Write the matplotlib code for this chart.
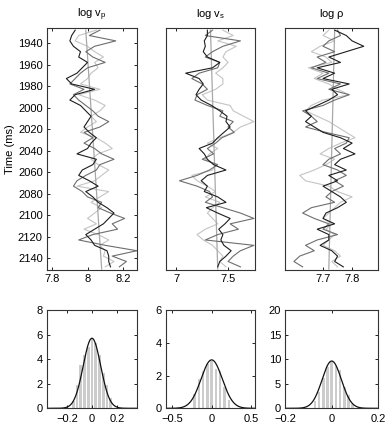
import numpy as np
import matplotlib
matplotlib.use("Agg")
import matplotlib.pyplot as plt

plt.rcParams['font.family'] = ['Liberation Sans', 'DejaVu Sans']
plt.rcParams['font.size'] = 8

# sample times (ms)
t = np.arange(1928, 2151, 5)

# log vp realisations
vp_black = [7.93, 7.91, 7.90, 7.92, 7.96, 7.95, 8.00, 7.97, 7.94, 7.88, 7.91, 8.04, 7.93, 7.90, 7.96,
            7.99, 8.02, 8.00, 7.98, 8.01, 8.05, 8.02, 8.00, 7.94, 8.05, 8.03, 7.97, 7.95, 8.01, 8.06,
            7.99, 8.03, 8.06, 8.11, 8.15, 8.12, 8.09, 8.04, 7.99, 8.02, 8.04, 8.11, 8.12, 8.12, 8.13]
vp_dark = [8.07, 8.01, 8.16, 8.04, 7.99, 8.03, 8.10, 8.00, 7.96, 7.93, 7.90, 7.98, 7.92, 7.95, 7.99,
           8.03, 8.06, 8.12, 8.07, 7.98, 8.03, 7.98, 8.04, 8.08, 8.15, 8.07, 8.05, 7.99, 7.94, 7.92,
           7.97, 8.00, 8.08, 8.06, 8.13, 8.21, 8.14, 8.17, 8.03, 7.95, 8.10, 8.28, 8.14, 8.22, 8.18]
vp_light = [8.05, 7.95, 7.93, 8.00, 8.04, 8.09, 8.04, 8.06, 8.02, 8.00, 7.96, 8.07, 7.95, 8.04, 8.10,
            8.07, 8.02, 8.05, 8.00, 7.96, 8.05, 8.10, 8.14, 8.06, 8.02, 8.06, 8.12, 8.08, 8.04, 7.94,
            8.12, 8.07, 8.02, 8.08, 8.04, 8.00, 8.05, 7.98, 8.06, 8.12, 8.07, 8.10, 8.09, 8.15, 8.10]
vp_trend = [7.99, 8.08]

# log vs realisations
vs_black = [7.30, 7.30, 7.27, 7.28, 7.26, 7.30, 7.42, 7.35, 7.09, 7.22, 7.26, 7.22, 7.19, 7.24, 7.34,
            7.42, 7.49, 7.48, 7.52, 7.46, 7.40, 7.35, 7.22, 7.27, 7.30, 7.36, 7.48, 7.30, 7.24, 7.30,
            7.27, 7.40, 7.48, 7.29, 7.40, 7.52, 7.47, 7.41, 7.45, 7.43, 7.46, 7.53, 7.48, 7.42, 7.40]
vs_dark = [7.35, 7.28, 7.62, 7.45, 7.35, 7.28, 7.42, 7.40, 7.22, 7.15, 7.25, 7.30, 7.20, 7.18, 7.30,
           7.45, 7.42, 7.55, 7.50, 7.56, 7.44, 7.38, 7.30, 7.36, 7.25, 7.40, 7.32, 7.20, 7.03, 7.20,
           7.32, 7.35, 7.28, 7.45, 7.62, 7.75, 7.52, 7.60, 7.40, 7.28, 7.75, 7.62, 7.55, 7.50, 7.62]
vs_light = [7.45, 7.55, 7.40, 7.58, 7.48, 7.45, 7.50, 7.45, 7.38, 7.45, 7.45, 7.38, 7.25, 7.30, 7.52,
            7.55, 7.65, 7.75, 7.62, 7.55, 7.42, 7.30, 7.40, 7.32, 7.28, 7.38, 7.35, 7.15, 7.20, 7.30,
            7.38, 7.28, 7.42, 7.35, 7.30, 7.35, 7.40, 7.28, 7.20, 7.26, 7.35, 7.40, 7.45, 7.42, 7.48]
vs_trend = [7.33, 7.40]

# log rho realisations
rho_black = [7.74, 7.78, 7.80, 7.84, 7.78, 7.72, 7.76, 7.68, 7.74, 7.70, 7.79, 7.73, 7.75, 7.72, 7.68,
             7.64, 7.66, 7.64, 7.67, 7.70, 7.76, 7.80, 7.77, 7.81, 7.76, 7.74, 7.78, 7.72, 7.75, 7.70,
             7.73, 7.76, 7.78, 7.75, 7.71, 7.70, 7.74, 7.68, 7.72, 7.72, 7.69, 7.73, 7.75, 7.74, 7.77]
rho_dark = [7.75, 7.76, 7.72, 7.70, 7.74, 7.68, 7.71, 7.66, 7.72, 7.68, 7.76, 7.72, 7.79, 7.74, 7.70,
            7.63, 7.66, 7.68, 7.64, 7.71, 7.79, 7.78, 7.74, 7.76, 7.72, 7.70, 7.75, 7.78, 7.74, 7.77,
            7.73, 7.71, 7.74, 7.66, 7.63, 7.67, 7.72, 7.70, 7.75, 7.68, 7.64, 7.67, 7.62, 7.60, 7.63]
rho_light = [7.72, 7.70, 7.74, 7.69, 7.66, 7.71, 7.73, 7.65, 7.70, 7.67, 7.72, 7.75, 7.79, 7.70, 7.66,
             7.64, 7.68, 7.72, 7.75, 7.78, 7.81, 7.76, 7.72, 7.69, 7.74, 7.71, 7.67, 7.62, 7.64, 7.72,
             7.75, 7.80, 7.76, 7.74, 7.72, 7.70, 7.73, 7.71, 7.74, 7.72, 7.70, 7.74, 7.76, 7.73, 7.75]
rho_trend = [7.74, 7.72]

# histograms of residuals
vp_bins = [-0.15, -0.12, -0.09, -0.06, -0.03, 0.0, 0.03, 0.06, 0.09, 0.12, 0.15]
vp_counts = [0.6, 1.9, 3.5, 4.3, 5.0, 5.6, 5.3, 4.3, 2.9, 1.9, 0.8]
vp_sigma = 0.07
vs_bins = [-0.22, -0.165, -0.11, -0.055, 0.0, 0.055, 0.11, 0.165, 0.22]
vs_counts = [0.9, 1.8, 2.3, 2.7, 2.9, 2.4, 2.3, 1.3, 0.5]
vs_sigma = 0.135
rho_bins = [-0.072, -0.054, -0.036, -0.018, 0.0, 0.018, 0.036, 0.054, 0.072, 0.09]
rho_counts = [1.5, 3.4, 6.2, 8.4, 9.4, 8.6, 7.7, 4.4, 2.8, 0.8]
rho_sigma = 0.0415

fig = plt.figure(figsize=(3.88, 4.24), dpi=100)

lefts = [0.121, 0.428, 0.735]
widths = [0.232, 0.229, 0.240]

logs = [
    (r'log v$_\mathregular{p}$', vp_black, vp_dark, vp_light, vp_trend, (7.77, 8.28), [7.8, 8.0, 8.2], ['7.8', '8', '8.2']),
    (r'log v$_\mathregular{s}$', vs_black, vs_dark, vs_light, vs_trend, (6.9, 7.76), [7.0, 7.5], ['7', '7.5']),
    (r'log $\mathregular{\rho}$', rho_black, rho_dark, rho_light, rho_trend, (7.57, 7.89), [7.7, 7.8], ['7.7', '7.8']),
]

for i, (title, blk, drk, lgt, trend, xlim, xt, xtl) in enumerate(logs):
    ax = fig.add_axes([lefts[i], 0.363, widths[i], 0.571])
    ax.plot(lgt, t, color='#c4c4c4', lw=0.8)
    ax.plot([trend[0], trend[1]], [t[0], 2150], color='#a8a8a8', lw=0.9)
    ax.plot(drk, t, color='#6e6e6e', lw=0.8)
    ax.plot(blk, t, color='#1e1e1e', lw=0.8)
    ax.set_xlim(*xlim)
    ax.set_ylim(2151, 1926)
    ax.set_xticks(xt)
    ax.set_xticklabels(xtl)
    if i == 0:
        ax.set_yticks(np.arange(1940, 2141, 20))
        ax.set_ylabel('Time (ms)', labelpad=2)
    else:
        ax.set_yticks([])
    ax.set_title(title, fontsize=8, pad=8)
    ax.tick_params(direction='in', top=True, right=True, length=2.5, width=0.6, pad=3)
    for s in ax.spines.values():
        s.set_linewidth(0.8)
        s.set_color('#333333')

hists = [
    (vp_bins, vp_counts, vp_sigma, 0.022, (-0.36, 0.36), (0, 8), [-0.2, 0, 0.2], ['\u22120.2', '0', '0.2'], [0, 2, 4, 6, 8]),
    (vs_bins, vs_counts, vs_sigma, 0.03, (-0.58, 0.55), (0, 6), [-0.5, 0, 0.5], ['\u22120.5', '0', '0.5'], [0, 2, 4, 6]),
    (rho_bins, rho_counts, rho_sigma, 0.011, (-0.2, 0.2), (0, 20), [-0.2, 0, 0.2], ['\u22120.2', '0', '0.2'], [0, 5, 10, 15, 20]),
]

for i, (bins, counts, sig, bw, xlim, ylim, xt, xtl, yt) in enumerate(hists):
    ax = fig.add_axes([lefts[i], 0.037, widths[i], 0.232])
    ax.bar(bins, counts, width=bw, color='#cccccc', edgecolor='none')
    x = np.linspace(xlim[0], xlim[1], 300)
    pdf = np.exp(-0.5 * (x / sig) ** 2) / (sig * np.sqrt(2 * np.pi))
    ax.plot(x, pdf, color='#111111', lw=0.9)
    ax.set_xlim(*xlim)
    ax.set_ylim(*ylim)
    ax.set_xticks(xt)
    ax.set_xticklabels(xtl)
    ax.set_yticks(yt)
    ax.tick_params(direction='in', top=True, right=True, length=2.5, width=0.6, pad=3)
    ax.tick_params(axis='x', pad=4)
    for s in ax.spines.values():
        s.set_linewidth(0.8)
        s.set_color('#333333')

fig.savefig('out.png', dpi=100)
